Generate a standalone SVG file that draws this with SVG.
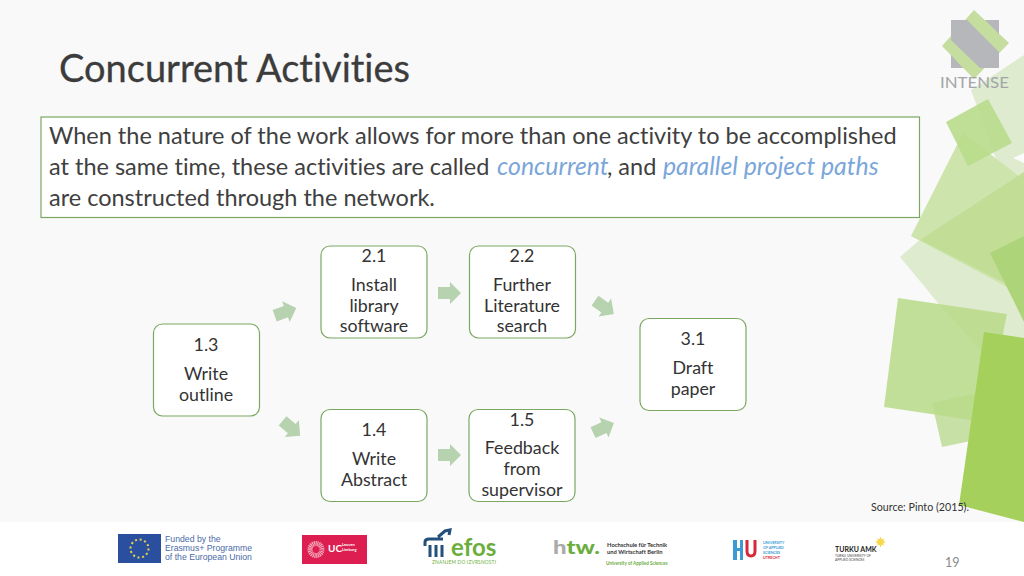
<svg xmlns="http://www.w3.org/2000/svg" width="1024" height="576" viewBox="0 0 1024 576">
<style>
text{font-family:"Lato","Open Sans","Liberation Sans",sans-serif;fill:#333;font-variant-ligatures:none}
.n{fill:#fff;stroke:#7aa860;stroke-width:1.2}
.t{font-size:17.800px;text-anchor:middle}
.b{font-size:23.500px;fill:#404040}
.c{font-style:italic;fill:#7ba6da;font-size:24.800px}
.a{fill:#b6d2ae}
.eu{fill:#4a6aa8;font-family:"Liberation Sans",sans-serif;font-size:8.700px}
.hu{font-size:3.700px;font-weight:700;fill:#3a9bd5}
</style>
<rect width="1024" height="576" fill="#f9f9f9"/>
<rect y="522" width="1024" height="54" fill="#fff"/>
<g id="decor">
<polygon points="1024,55 971,90 1000,170 900,257 938,303 1024,400" fill="#dfebcf"/>
<polygon points="1024,153 1013,158 1024,163" fill="#fbfbfb"/>
<polygon points="963,133 911,236 1024,296 1024,180" fill="#cde4ac"/>
<polygon points="920,240 1024,172 1024,300 1003,282" fill="#c1dd96"/>
<polygon points="946,122 988,99 1012,143 968,166" fill="#b9db8b" opacity=".9"/>
<polygon points="990,253 1024,236 1024,322" fill="#aed47a"/>
<polygon points="932,403 977,393 985,438 942,447" fill="#c7e0a5"/>
<polygon points="898,298 1007,314 985,422 884,407" fill="#b8da88" opacity=".85"/>
<polygon points="984,332 1024,338 1024,522 959,505" fill="#a5d05c"/>
</g>
<g id="intense-logo">
<polygon points="974,10 1009,43 974,79 942,46" fill="#c5dd9f"/>
<rect x="951" y="20" width="48" height="48" fill="#b5b7bb"/>
<polygon points="967,20 985,20 999,34 999,52" fill="#c5dd9f"/>
<polygon points="951,40 980,68 963,68 951,55" fill="#c5dd9f"/>
<text x="940" y="88" font-size="15" textLength="69" lengthAdjust="spacingAndGlyphs" style="fill:#a3a5a8">INTENSE</text>
</g>
<text id="title" x="59" y="82" font-size="38" textLength="351" style="fill:#3c3c3c" stroke="#3c3c3c" stroke-width=".3">Concurrent Activities</text>
<g id="callout">
<rect x="41" y="117" width="878.500" height="100.500" fill="#fff" stroke="#7aa860" stroke-width="1.200"/>
<text class="b" x="49" y="144">When the nature of the work allows for more than one activity to be accomplished</text>
<text class="b" x="49" y="175">at the same time, these activities are called <tspan class="c" x="497">concurrent</tspan><tspan x="607">, and </tspan><tspan class="c" x="663">parallel project paths</tspan></text>
<text class="b" x="49" y="206">are constructed through the network.</text>
</g>
<g id="connectors">
<polygon class="a" transform="translate(285 312) rotate(-20)" points="-11,-6 1,-6 1,-11 12,0 1,11 1,6 -11,6"/>
<polygon class="a" transform="translate(449 293)" points="-11,-6 1,-6 1,-11 12,0 1,11 1,6 -11,6"/>
<polygon class="a" transform="translate(604 307) rotate(35)" points="-11,-6 1,-6 1,-11 12,0 1,11 1,6 -11,6"/>
<polygon class="a" transform="translate(291 428) rotate(40)" points="-11,-6 1,-6 1,-11 12,0 1,11 1,6 -11,6"/>
<polygon class="a" transform="translate(449 455)" points="-11,-6 1,-6 1,-11 12,0 1,11 1,6 -11,6"/>
<polygon class="a" transform="translate(603 428) rotate(-25)" points="-11,-6 1,-6 1,-11 12,0 1,11 1,6 -11,6"/>
</g>
<g id="n21"><rect class="n" x="321" y="246" width="106" height="92" rx="9"/><text class="t" x="374" y="262">2.1</text><text class="t" x="374" y="291">Install</text><text class="t" x="374" y="312">library</text><text class="t" x="374" y="332">software</text></g>
<g id="n22"><rect class="n" x="469.500" y="246" width="106" height="92" rx="9"/><text class="t" x="522" y="262">2.2</text><text class="t" x="522" y="291">Further</text><text class="t" x="522" y="312">Literature</text><text class="t" x="522" y="332">search</text></g>
<g id="n13"><rect class="n" x="153.500" y="324" width="106" height="92" rx="9"/><text class="t" x="206" y="351">1.3</text><text class="t" x="206" y="380">Write</text><text class="t" x="206" y="401">outline</text></g>
<g id="n31"><rect class="n" x="640" y="318.500" width="106" height="92" rx="9"/><text class="t" x="693" y="345">3.1</text><text class="t" x="693" y="374">Draft</text><text class="t" x="693" y="395">paper</text></g>
<g id="n14"><rect class="n" x="321" y="409.500" width="106" height="92" rx="9"/><text class="t" x="374" y="436">1.4</text><text class="t" x="374" y="465">Write</text><text class="t" x="374" y="486">Abstract</text></g>
<g id="n15"><rect class="n" x="469" y="409.500" width="106" height="92" rx="9"/><text class="t" x="522" y="426">1.5</text><text class="t" x="522" y="454">Feedback</text><text class="t" x="522" y="475">from</text><text class="t" x="522" y="496">supervisor</text></g>
<text id="source" x="871" y="511" font-size="10.700">Source: Pinto (2015).</text>
<g id="logos">
<rect x="118" y="534" width="43" height="29" fill="#2a4f9f"/>
<circle cx="139.500" cy="548.500" r="9" fill="none" stroke="#e8d24a" stroke-width="2" stroke-dasharray="2 2.700"/>
<text class="eu" x="165" y="542">Funded by the</text>
<text class="eu" x="165" y="551">Erasmus+ Programme</text>
<text class="eu" x="165" y="560">of the European Union</text>
<rect x="302" y="535" width="65" height="29" fill="#dc1f50"/>
<circle cx="316" cy="549.500" r="6" fill="none" stroke="#f6b0c0" stroke-width="5" stroke-dasharray="1 .6"/>
<text x="328" y="552" font-size="10" font-weight="700" style="fill:#fff">UC</text>
<text x="342" y="546" font-size="4" font-weight="700" style="fill:#fff">Leuven</text>
<text x="342" y="551" font-size="4" font-weight="700" style="fill:#fff">Limburg</text>
<path d="M425 546v-4q0-3 4-3h14M430 545v12M436 545v12M442 545v12M438 537l7-6 5-1-1 5" fill="none" stroke="#24507c" stroke-width="3"/>
<text x="451" y="556" font-size="24" font-weight="700" style="fill:#6cae3e">efos</text>
<text x="432" y="564" font-size="4.800" textLength="64" style="fill:#6cae3e">ZNANJEM DO IZVRSNOSTI</text>
<text x="553" y="554" font-size="19" font-weight="900" textLength="47" lengthAdjust="spacingAndGlyphs" style="fill:#6cae3e"><tspan style="fill:#aaa">h</tspan>tw.</text>
<text x="607" y="547" font-size="5.800" font-weight="700" style="fill:#333">Hochschule für Technik</text>
<text x="607" y="553.500" font-size="5.800" font-weight="700" style="fill:#333">und Wirtschaft Berlin</text>
<text x="606" y="565" font-size="4.600" font-weight="700" style="fill:#6cae3e">University of Applied Sciences</text>
<rect x="733" y="540" width="4" height="20" fill="#3a9bd5"/><rect x="740" y="540" width="3" height="20" fill="#3a9bd5"/><rect x="737" y="548" width="3" height="3" fill="#3a9bd5"/>
<path d="M747 540v11q0 5 4 5t4-5v-11" fill="none" stroke="#d8293a" stroke-width="3"/>
<text class="hu" x="763" y="544">UNIVERSITY</text>
<text class="hu" x="763" y="549">OF APPLIED</text>
<text class="hu" x="763" y="554">SCIENCES</text>
<text class="hu" x="763" y="559" style="fill:#d8293a">UTRECHT</text>
<text x="835" y="552" font-size="7" font-weight="700" style="fill:#222">TURKU AMK</text>
<text x="835" y="556.500" font-size="3.300" style="fill:#444">TURKU UNIVERSITY OF</text>
<text x="835" y="560.500" font-size="3.300" style="fill:#444">APPLIED SCIENCES</text>
<circle cx="880.500" cy="542" r="3" fill="#f5d94a" stroke="#f5d94a" stroke-width="1"/>
<path d="M880.500 537v10M875.500 542h10M877 538.500l7 7M884 538.500l-7 7" stroke="#f5d94a" stroke-width="1"/>
</g>
<text id="page" x="945" y="567" font-size="12.500" style="fill:#8a8a8a">19</text>
</svg>
